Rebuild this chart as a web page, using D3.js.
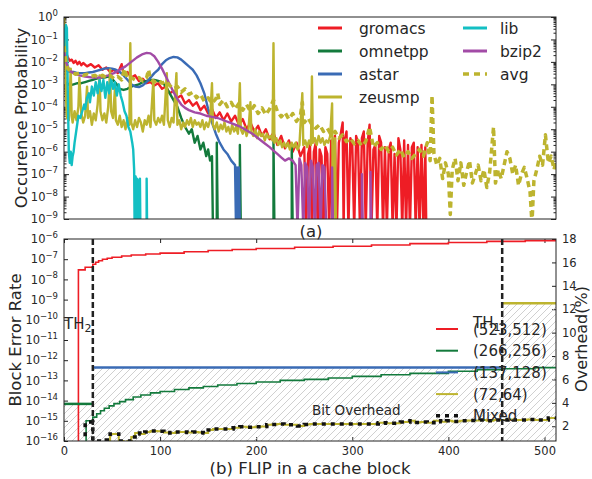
<!DOCTYPE html>
<html>
<head>
<meta charset="utf-8">
<script src="https://cdn.jsdelivr.net/npm/d3@7"></script>
<style>
  body { margin: 0; background: #fff; }
  text { font-family: "DejaVu Sans", sans-serif; fill: #262626; }
</style>
</head>
<body>
<div id="chart"></div>
<script>
// values are log10 of the probability / error rate; NONE = zero occurrences
const NONE = null;

// (a) occurrence probability per FLIP count
const gromacs = [[0,-1.2],[2,-1.55],[4,-1.8],[6,-1.95],[8,-1.9],[10,-2.05],[12,-1.95],[14,-2.1],[16,-2.0],[18,-2.15],[20,-2.05],[24,-2.2],[28,-2.1],[32,-2.25],[36,-2.15],[40,-2.35],[44,-2.25],[48,-2.45],[52,-2.35],[56,-2.5],[60,-2.1],[62,-2.55],[66,-2.45],[70,-2.7],[74,-2.6],[78,-2.85],[82,-2.75],[86,-2.95],[90,-2.9],[94,-3.05],[98,-2.95],[102,-3.2],[106,-3.1],[110,-3.4],[114,-3.3],[118,-3.6],[122,-3.5],[126,-3.85],[130,-3.7],[134,-3.95],[138,-3.8],[142,-4.15],[146,-3.95],[150,-4.3],[154,-4.1],[158,-4.5],[162,-4.25],[166,-4.6],[170,-4.3],[174,-4.65],[178,-4.4],[182,-4.8],[186,-4.55],[190,-5.0],[194,-4.7],[198,-5.1],[202,-4.85],[206,-5.3],[210,-5.0],[214,-5.45],[218,-5.15],[222,-5.7],[226,-5.3],[230,-5.85],[234,-5.5],[238,-6.0],[242,-5.6],[246,-6.2],[250,-5.8],[252,NONE],[254,-6.1],[256,-5.7],[258,NONE],[260,-6.0],[262,-5.6],[264,NONE],[266,-5.9],[268,-6.2],[270,NONE],[272,-5.8],[274,-6.1],[276,NONE],[278,-5.5],[280,-5.9],[282,-5.3],[284,NONE],[286,-5.6],[288,-5.2],[290,-4.7],[291,NONE],[292,-5.5],[294,-5.1],[296,NONE],[298,-5.4],[300,-5.7],[302,NONE],[304,-5.3],[306,-5.6],[308,NONE],[310,-5.4],[312,-5.1],[314,NONE],[316,-5.6],[318,-4.8],[320,NONE],[322,-5.9],[324,-5.7],[326,NONE],[328,-5.3],[330,-5.6],[332,NONE],[334,-5.8],[336,NONE],[338,-5.9],[340,-5.6],[342,NONE],[344,-6.1],[346,NONE],[348,-5.4],[350,-5.9],[352,NONE],[354,-5.5],[356,NONE],[358,-5.7],[360,NONE],[362,-5.8],[364,-5.6],[366,NONE],[368,-5.8],[370,NONE],[372,-5.7],[374,NONE],[376,-5.8],[377,NONE]];
const omnetpp = [[2,-2.9],[6,-3.05],[10,-3.0],[14,-2.95],[18,-2.95],[22,-2.9],[26,-2.85],[30,-2.8],[34,-2.75],[38,-2.7],[42,-2.7],[46,-2.65],[50,-2.75],[54,-2.95],[58,-3.2],[62,-3.25],[66,-3.2],[70,-3.1],[74,-3.05],[78,-3.0],[82,-2.9],[86,-2.85],[90,-2.8],[94,-2.8],[98,-2.85],[102,-2.9],[106,-3.1],[110,-3.4],[114,-3.7],[118,-4.0],[122,-4.5],[126,-4.9],[130,-5.2],[133,-5.0],[136,-5.6],[139,-5.3],[142,-5.9],[145,-5.6],[148,-6.2],[150,-5.9],[152,-6.4],[154,-6.2],[155,NONE],[159,NONE],[159,-5.6],[160,NONE],[183,NONE],[183,-5.7],[184,NONE],[218,NONE],[218,-5.55],[219,NONE],[237,NONE],[237,-5.7],[238,NONE]];
const astar = [[0,-2.1],[3,-2.4],[6,-2.45],[10,-2.45],[14,-2.5],[18,-2.5],[22,-2.5],[26,-2.47],[30,-2.45],[34,-2.4],[38,-2.35],[42,-2.3],[46,-2.28],[50,-2.3],[54,-2.35],[58,-2.45],[62,-2.6],[66,-2.8],[70,-3.0],[74,-3.1],[78,-3.12],[82,-3.05],[86,-2.9],[90,-2.7],[94,-2.5],[98,-2.35],[102,-2.1],[106,-1.93],[110,-1.83],[114,-1.78],[118,-1.8],[122,-1.9],[126,-2.05],[130,-2.2],[134,-2.35],[138,-2.6],[142,-2.95],[146,-3.4],[150,-4.1],[154,-4.7],[158,-5.2],[162,-5.6],[166,-5.9],[170,-6.1],[174,-6.4],[178,-6.6],[179,NONE],[180,-6.7],[181,NONE],[182,-6.7],[183,NONE]];
const zeusmp = [[0,-0.05],[1,-1.0],[2,-3.5],[3,-4.5],[4,-4.3],[5,-4.6],[7,-2.3],[8,-4.4],[9,-4.7],[11,-4.2],[13,-4.6],[15,-4.0],[16,-2.7],[18,-4.3],[20,-4.7],[22,-4.4],[24,-3.1],[25,-4.5],[27,-4.2],[29,-4.8],[31,-4.3],[33,-4.6],[35,-3.9],[37,-2.6],[38,-4.2],[40,-4.6],[42,-4.3],[44,-4.7],[46,-4.0],[48,-2.35],[49,-4.2],[51,-4.5],[53,-3.2],[54,-4.6],[56,-4.8],[58,-4.4],[60,-4.9],[62,-4.6],[64,-5.0],[66,-4.5],[68,-4.8],[69,-1.17],[70,-4.7],[72,-5.0],[74,-4.6],[76,-4.9],[78,-4.5],[80,-4.7],[82,-5.1],[84,-4.6],[86,-4.8],[88,-4.4],[90,-4.9],[93,-2.8],[94,-4.6],[96,-4.8],[98,-4.5],[100,-4.7],[102,-4.4],[104,-4.8],[107,-2.5],[108,-4.6],[110,-4.9],[112,-4.5],[114,-4.7],[117,-2.5],[118,-4.8],[120,-4.6],[122,-5.0],[124,-4.7],[126,-4.9],[128,-4.6],[130,-4.8],[132,-4.5],[134,-4.9],[136,-4.6],[138,-4.8],[140,-4.7],[142,-4.9],[144,-4.6],[146,-5.0],[148,-4.7],[150,-4.9],[152,-4.6],[154,-2.95],[155,-4.8],[157,-5.0],[159,-4.7],[161,-5.1],[163,-4.8],[165,-5.0],[167,-4.7],[169,-5.1],[171,-4.9],[173,-5.2],[175,-4.8],[177,-5.1],[179,-4.9],[181,-5.2],[183,-2.95],[184,-5.0],[186,-5.2],[188,-4.9],[190,-5.3],[192,-5.0],[194,-3.8],[195,-5.1],[197,-5.3],[199,-5.0],[201,-5.4],[203,-5.1],[205,-5.3],[207,-5.2],[209,-5.5],[211,-5.2],[213,-5.4],[215,-5.3],[217,-5.5],[218,-1.17],[219,-5.6],[221,-5.4],[223,-5.7],[225,-5.5],[227,-5.8],[229,-5.6],[231,-5.8],[233,-5.6],[235,-5.9],[237,-5.6],[239,-5.8],[241,-5.6],[243,-5.9],[245,-5.7],[248,-3.4],[249,-5.7],[251,-5.5],[253,-5.8],[255,-5.5],[257,-5.7],[258,-2.65],[259,-5.6],[261,-5.4],[263,-5.7],[265,-5.3],[267,-5.6],[269,-5.4],[271,-5.7],[273,-5.5],[275,-5.6],[277,-5.3],[279,-3.85],[280,NONE],[282,-5.4],[283,NONE]];
const lib = [[0,-1.5],[1,-0.6],[2,-0.36],[3,-0.5],[4,-3.5],[5,-6.0],[6,-6.5],[7,-6.0],[8,-6.6],[9,-6.2],[10,-6.0],[11,-5.6],[13,-5.0],[15,-4.4],[17,-4.5],[19,-4.2],[21,-3.9],[22,-4.1],[24,-3.6],[26,-3.4],[27,-3.8],[29,-3.1],[31,-3.5],[33,-2.9],[35,-3.4],[37,-2.8],[39,-3.3],[41,-2.8],[43,-3.6],[45,-2.9],[47,-3.4],[49,-2.75],[51,-3.2],[53,-2.9],[55,-3.5],[57,-3.0],[59,-3.5],[61,-3.8],[63,-4.2],[65,-4.4],[67,-4.9],[69,-5.1],[71,-5.6],[72,-5.9],[73,-6.8],[73.5,NONE],[74.5,-7.1],[75.5,NONE],[76,-7.2],[77,-7.3],[77.5,NONE],[79,NONE],[79,-7.2],[79.5,NONE],[86,NONE],[86,-7.2],[86.5,NONE]];
const bzip2 = [[0,-1.5],[2,-2.0],[4,-2.2],[6,-2.4],[10,-2.5],[16,-2.6],[22,-2.65],[30,-2.7],[38,-2.7],[46,-2.6],[52,-2.5],[58,-2.35],[64,-2.2],[70,-2.0],[76,-1.8],[82,-1.65],[86,-1.6],[90,-1.62],[94,-1.75],[98,-2.0],[102,-2.3],[106,-2.65],[110,-3.0],[114,-3.35],[118,-3.65],[122,-3.9],[126,-4.05],[130,-4.15],[136,-4.25],[142,-4.3],[148,-4.4],[154,-4.45],[160,-4.5],[166,-4.6],[172,-4.7],[178,-4.8],[184,-4.9],[190,-5.05],[196,-5.2],[202,-5.4],[208,-5.6],[214,-5.8],[218,-5.95],[222,-6.1],[226,-6.25],[230,-6.4],[234,-6.3],[238,-6.4],[241,-6.6],[243,NONE],[245,-6.3],[247,-6.6],[249,NONE],[251,-6.5],[253,-6.7],[255,NONE],[257,-6.4],[259,-6.7],[261,NONE],[263,-6.6],[265,-6.5],[267,NONE],[269,-6.6],[271,-6.7],[273,NONE],[279,NONE],[279,-6.7],[280,NONE],[310,NONE],[310,-7.0],[311,NONE],[319,NONE],[319,-6.9],[320,NONE]];
const avg = [[0,-1.3],[2,-2.0],[4,-2.3],[8,-2.45],[12,-2.55],[16,-2.5],[20,-2.6],[24,-2.55],[28,-2.65],[32,-2.6],[36,-2.7],[40,-2.6],[44,-2.7],[48,-2.6],[52,-2.75],[56,-2.65],[60,-2.8],[63,-2.3],[66,-2.75],[70,-2.7],[74,-2.8],[78,-2.7],[82,-2.85],[86,-2.7],[88,-2.35],[90,-2.8],[94,-2.9],[98,-2.8],[102,-2.95],[106,-2.85],[110,-3.05],[114,-3.2],[118,-3.1],[122,-3.35],[126,-3.2],[130,-3.45],[134,-3.35],[138,-3.6],[142,-3.45],[146,-3.75],[150,-3.6],[154,-3.85],[158,-3.65],[160,-3.4],[162,-3.9],[166,-3.7],[170,-4.0],[174,-3.8],[178,-4.1],[182,-3.85],[186,-4.15],[190,-3.9],[194,-4.2],[198,-3.95],[202,-4.3],[206,-4.05],[210,-4.35],[214,-4.1],[218,-3.7],[222,-4.2],[226,-4.45],[230,-4.25],[234,-4.55],[238,-4.3],[242,-4.65],[246,-4.4],[248,-3.8],[250,-4.7],[254,-4.5],[258,-4.8],[262,-4.95],[266,-4.8],[270,-5.1],[274,-4.95],[278,-5.25],[282,-5.1],[286,-5.4],[290,-5.25],[294,-5.55],[298,-5.4],[302,-5.65],[306,-5.5],[310,-5.75],[314,-5.55],[318,-4.9],[322,-5.8],[326,-5.6],[330,-5.9],[334,-5.7],[338,-6.0],[342,-5.8],[346,-6.15],[350,-5.9],[354,-6.25],[358,-6.0],[362,-6.3],[366,-6.1],[370,-5.9],[374,-6.2],[378,-5.6],[381,-6.4],[383,-3.5],[385,-6.1],[388,-6.6],[391,-6.3],[394,-7.2],[397,-6.5],[400,-7.0],[402,-8.8],[404,-6.8],[407,-6.3],[410,-7.3],[413,-6.5],[416,-7.5],[419,-6.9],[422,-6.4],[425,-7.4],[428,-7.0],[431,-6.6],[434,-7.3],[437,-6.8],[440,-7.6],[443,-6.9],[447,-4.9],[449,-7.4],[452,-6.8],[455,-7.2],[458,-6.6],[461,-6.0],[464,-6.3],[467,-7.0],[470,-6.6],[473,-7.5],[476,-7.0],[479,-6.7],[482,-7.2],[485,-7.8],[487,-9.2],[489,-7.3],[492,-6.8],[495,-6.2],[498,-6.6],[501,-5.25],[504,-6.5],[507,-6.2],[510,-6.8],[512,-6.4]];

const topNames  = ["gromacs", "omnetpp", "astar", "zeusmp", "lib", "bzip2", "avg"];
const topColors = ["#ee1d25", "#137a3c", "#3a6bb5", "#bdb42f", "#13bfc3", "#a24ba6", "#bdb42f"];
const topSeries = [gromacs, omnetpp, astar, zeusmp, lib, bzip2, avg];

// (b) block error rate (log10) per FLIP count, and bit overhead (%)
const ber523 = [[0,NONE],[15,-7.53],[22,-7.4],[30,-7.25],[33,-7.15],[36,-7.08],[40,-7.0],[45,-6.95],[50,-6.9],[60,-6.84],[70,-6.79],[85,-6.74],[100,-6.7],[125,-6.63],[150,-6.57],[175,-6.52],[200,-6.47],[240,-6.41],[280,-6.36],[320,-6.3],[360,-6.23],[400,-6.17],[440,-6.12],[480,-6.08],[512,-6.05]];
const ber266 = [[0,NONE],[23,-15.0],[30,-14.82],[34,-14.65],[38,-14.5],[42,-14.38],[47,-14.26],[52,-14.15],[58,-14.05],[64,-13.95],[72,-13.82],[80,-13.72],[90,-13.62],[100,-13.55],[115,-13.45],[130,-13.37],[145,-13.3],[160,-13.23],[180,-13.15],[200,-13.08],[225,-13.0],[250,-12.95],[275,-12.88],[300,-12.8],[330,-12.72],[360,-12.65],[400,-12.55],[430,-12.47],[456,-12.42],[490,-12.37],[512,-12.35]];
const ber72 = [[0,NONE],[44,-15.95],[48,-15.65],[53,-15.65],[57,-16.0],[62,NONE],[66,-16.0],[70,-15.8],[74,-15.6],[79,-15.65],[84,-15.55],[90,-15.5],[97,-15.52],[104,-15.58],[110,-15.6],[116,-15.55],[121,-15.55],[128,-15.58],[134,-15.55],[140,-15.58],[145,-15.6],[150,-15.45],[155,-15.4],[162,-15.4],[170,-15.4],[176,-15.35],[183,-15.3],[190,-15.32],[199,-15.3],[205,-15.28],[211,-15.2],[216,-15.18],[222,-15.16],[229,-15.2],[235,-15.2],[243,-15.26],[250,-15.18],[256,-15.16],[270,-15.16],[285,-15.16],[300,-15.16],[318,-15.16],[327,-15.1],[335,-15.12],[350,-15.06],[360,-15.0],[365,-15.08],[371,-15.06],[378,-15.1],[385,-15.0],[392,-15.05],[398,-15.0],[404,-15.03],[412,-15.0],[420,-14.98],[433,-14.96],[440,-15.0],[447,-14.96],[454,-14.96],[462,-14.93],[468,-14.96],[475,-14.96],[482,-14.93],[490,-14.96],[496,-14.96],[504,-14.86],[512,-14.9]];
const berMixed = [[0,NONE],[22,-15.06],[30,-16.0],[44,-15.95],[48,-15.65],[53,-15.65],[57,-16.0],[62,-16.0],[66,-16.0],[70,-15.8],[74,-15.6],[79,-15.65],[84,-15.55],[90,-15.5],[97,-15.52],[104,-15.58],[110,-15.6],[116,-15.55],[121,-15.55],[128,-15.58],[134,-15.55],[140,-15.58],[145,-15.6],[150,-15.45],[155,-15.4],[162,-15.4],[170,-15.4],[176,-15.35],[183,-15.3],[190,-15.32],[199,-15.3],[205,-15.28],[211,-15.2],[216,-15.18],[222,-15.16],[229,-15.2],[235,-15.2],[243,-15.26],[250,-15.18],[256,-15.16],[270,-15.16],[285,-15.16],[300,-15.16],[318,-15.16],[327,-15.1],[335,-15.12],[350,-15.06],[360,-15.0],[365,-15.08],[371,-15.06],[378,-15.1],[385,-15.0],[392,-15.05],[398,-15.0],[404,-15.03],[412,-15.0],[420,-14.98],[433,-14.96],[440,-15.0],[447,-14.96],[454,-14.96],[462,-14.93],[468,-14.96],[475,-14.96],[482,-14.93],[490,-14.96],[496,-14.96],[504,-14.86],[512,-14.9]];

const schemes = ["(523,512)", "(266,256)", "(137,128)", "(72,64)"];
const schemeColors = ["#ee1d25", "#137a3c", "#3a6bb5", "#bdb42f"];
const schemeOverhead = [2.15, 3.91, 7.03, 12.5];
const TH2 = 30, TH1 = 456;
// mixed scheme: (266,256) below TH2, (137,128) up to TH1, (72,64) above
const mixedSteps = [[0, 1], [TH2, 2], [TH1, 3], [512, 3]];

const W = 492, H = 202;
const svg = d3.select("#chart").append("svg").attr("width", 592).attr("height", 479);

const defs = svg.append("defs");
defs.append("clipPath").attr("id", "clipA").append("rect").attr("width", W).attr("height", H);
defs.append("clipPath").attr("id", "clipB").append("rect").attr("width", W).attr("height", H);
defs.append("pattern").attr("id", "hatch").attr("patternUnits", "userSpaceOnUse")
    .attr("width", 7).attr("height", 7)
  .append("path").attr("d", "M-1,1 l2,-2 M0,7 l7,-7 M6,8 l2,-2")
    .attr("stroke", "#c4c4c4").attr("stroke-width", 0.8);

function supLabels(g) {
  g.selectAll(".tick text").each(function(d) {
    const e = Math.round(Math.log10(d));
    const t = d3.select(this).text(null);
    t.append("tspan").text("10");
    t.append("tspan").attr("dy", "-0.6em").attr("font-size", "8.5px").text(String(e).replace("-", "\u2212"));
  });
}
function styleAxis(g) {
  g.attr("font-family", "DejaVu Sans").attr("font-size", 11.5);
  g.select(".domain").remove();
  g.selectAll(".tick line").attr("stroke", "#222");
}

// ---------- panel (a) ----------
const gA = svg.append("g").attr("transform", "translate(64,17)");
const xA = d3.scaleLinear().domain([0, 512]).range([0, W]);
const yA = d3.scaleLog().domain([1e-9, 1]).range([H, 0]);
const decadesA = d3.range(-9, 1).map(k => Math.pow(10, k));
const minorA = [];
d3.range(-9, 0).forEach(k => d3.range(2, 10).forEach(m => minorA.push(m * Math.pow(10, k))));

gA.append("g").call(d3.axisLeft(yA).tickValues(decadesA).tickSize(-5).tickPadding(6))
  .call(styleAxis).call(supLabels);
gA.append("g").call(d3.axisLeft(yA).tickValues(minorA).tickSize(-2.5).tickFormat("")).call(styleAxis);
gA.append("g").attr("transform", `translate(${W},0)`)
  .call(d3.axisRight(yA).tickValues(decadesA).tickSize(-5).tickFormat("")).call(styleAxis);
gA.append("g").attr("transform", `translate(${W},0)`)
  .call(d3.axisRight(yA).tickValues(minorA).tickSize(-2.5).tickFormat("")).call(styleAxis);

const lineA = d3.line()
  .x(d => xA(d[0]))
  .y(d => d[1] === NONE ? H + 10 : yA(Math.pow(10, d[1])));

const plotA = gA.append("g").attr("clip-path", "url(#clipA)");
topSeries.forEach((s, i) => {
  plotA.append("path").datum(s)
    .attr("d", lineA)
    .attr("fill", "none")
    .attr("stroke", topColors[i])
    .attr("stroke-width", topNames[i] === "avg" ? 3.5 : 2.4)
    .attr("stroke-dasharray", topNames[i] === "avg" ? "6,4" : null)
    .attr("stroke-linejoin", "round");
});

gA.append("rect").attr("width", W).attr("height", H).attr("fill", "none").attr("stroke", "#222");

// legend (a)
const legA = gA.append("g").attr("font-size", 15.5);
topNames.forEach((n, i) => {
  const col = i < 4 ? 0 : 1, row = i < 4 ? i : i - 4;
  const lx = col === 0 ? 254 : 399, ly = 11 + row * 23;
  legA.append("line").attr("x1", lx).attr("x2", lx + 24).attr("y1", ly).attr("y2", ly)
    .attr("stroke", topColors[i]).attr("stroke-width", n === "avg" ? 3.5 : 3)
    .attr("stroke-dasharray", n === "avg" ? "6,5" : null);
  legA.append("text").attr("x", lx + (col === 0 ? 41 : 37)).attr("y", ly + 5.5).text(n);
});

svg.append("text").attr("x", 311).attr("y", 237).attr("text-anchor", "middle")
  .attr("font-size", 16.5).text("(a)");
svg.append("text").attr("transform", "translate(21,118) rotate(-90)").attr("dy", "0.35em")
  .attr("text-anchor", "middle").attr("font-size", 16.5).text("Occurence Probability");

// ---------- panel (b) ----------
const gB = svg.append("g").attr("transform", "translate(64,239)");
const xB = d3.scaleLinear().domain([0, 512]).range([0, W]);
const yB = d3.scaleLog().domain([1e-16, 1e-6]).range([H, 0]);
const yR = d3.scaleLinear().domain([0.74, 18]).range([H, 0]);
const decadesB = d3.range(-16, -5).map(k => Math.pow(10, k));

gB.append("g").call(d3.axisLeft(yB).tickValues(decadesB).tickSize(-4).tickPadding(6))
  .call(styleAxis).call(supLabels);
gB.append("g").attr("transform", `translate(${W},0)`)
  .call(d3.axisRight(yR).tickValues(d3.range(2, 19, 2)).tickSize(-4).tickPadding(6)).call(styleAxis);
gB.append("g").attr("transform", `translate(0,${H})`)
  .call(d3.axisBottom(xB).tickValues(d3.range(0, 501, 100)).tickSize(-4).tickPadding(6)).call(styleAxis);
gB.append("g")
  .call(d3.axisTop(xB).tickValues(d3.range(0, 501, 100)).tickSize(-4).tickFormat("")).call(styleAxis);

const plotB = gB.append("g").attr("clip-path", "url(#clipB)");

// hatched overhead area of the mixed scheme
plotB.append("path").datum(mixedSteps)
  .attr("d", d3.area().curve(d3.curveStepAfter)
    .x(d => xB(d[0])).y0(H).y1(d => yR(schemeOverhead[d[1]])))
  .attr("fill", "url(#hatch)");

const lineB = d3.line().curve(d3.curveStepAfter)
  .x(d => xB(d[0]))
  .y(d => d[1] === NONE ? H + 10 : yB(Math.pow(10, d[1])));

plotB.append("path").datum(ber523).attr("d", lineB).attr("fill", "none")
  .attr("stroke", schemeColors[0]).attr("stroke-width", 1.6);
plotB.append("path").datum(ber266).attr("d", lineB).attr("fill", "none")
  .attr("stroke", schemeColors[1]).attr("stroke-width", 1.6);

// overhead segments of the mixed scheme
mixedSteps.slice(0, -1).forEach((s, i) => {
  const x2 = mixedSteps[i + 1][0];
  plotB.append("line").attr("x1", xB(s[0])).attr("x2", xB(x2))
    .attr("y1", yR(schemeOverhead[s[1]])).attr("y2", yR(schemeOverhead[s[1]]))
    .attr("stroke", schemeColors[s[1]]).attr("stroke-width", 2.5);
});

plotB.append("path").datum(ber72).attr("d", lineB).attr("fill", "none")
  .attr("stroke", schemeColors[3]).attr("stroke-width", 2);
plotB.append("path").datum(berMixed).attr("d", lineB).attr("fill", "none")
  .attr("stroke", "#111").attr("stroke-width", 3.5).attr("stroke-dasharray", "4,5");

[TH2, TH1].forEach(t => {
  gB.append("line").attr("x1", xB(t)).attr("x2", xB(t)).attr("y1", 0).attr("y2", H)
    .attr("stroke", "#222").attr("stroke-width", 2.5).attr("stroke-dasharray", "6,3");
});

gB.append("rect").attr("width", W).attr("height", H).attr("fill", "none").attr("stroke", "#222");

// labels in panel (b)
const th2 = gB.append("text").attr("x", 0).attr("y", 90).attr("font-size", 15);
th2.append("tspan").text("TH");
th2.append("tspan").attr("dy", "0.3em").attr("font-size", "11px").text("2");
gB.append("text").attr("x", 248).attr("y", 176).attr("font-size", 13.5).text("Bit Overhead");

const legB = gB.append("g").attr("font-size", 15);
const legNames = schemes.concat(["Mixed"]);
legNames.forEach((n, i) => {
  const ly = 90 + i * 21.7;
  legB.append("line").attr("x1", 372).attr("x2", 394).attr("y1", ly).attr("y2", ly)
    .attr("stroke", i < 4 ? schemeColors[i] : "#111")
    .attr("stroke-width", i < 4 ? 2 : 3.5)
    .attr("stroke-dasharray", i < 4 ? null : "4,5");
  legB.append("text").attr("x", 409).attr("y", ly + 5.5).text(n);
});
const th1 = gB.append("text").attr("x", 409).attr("y", 89).attr("font-size", 15);
th1.append("tspan").text("TH");
th1.append("tspan").attr("dy", "0.3em").attr("font-size", "11px").text("1");

svg.append("text").attr("x", 310).attr("y", 474).attr("text-anchor", "middle")
  .attr("font-size", 16.5).text("(b) FLIP in a cache block");
svg.append("text").attr("transform", "translate(15,340) rotate(-90)").attr("dy", "0.35em")
  .attr("text-anchor", "middle").attr("font-size", 16.5).text("Block Error Rate");
svg.append("text").attr("transform", "translate(581,339) rotate(-90)").attr("dy", "0.35em")
  .attr("text-anchor", "middle").attr("font-size", 16).text("Overhead(%)");
</script>
</body>
</html>
